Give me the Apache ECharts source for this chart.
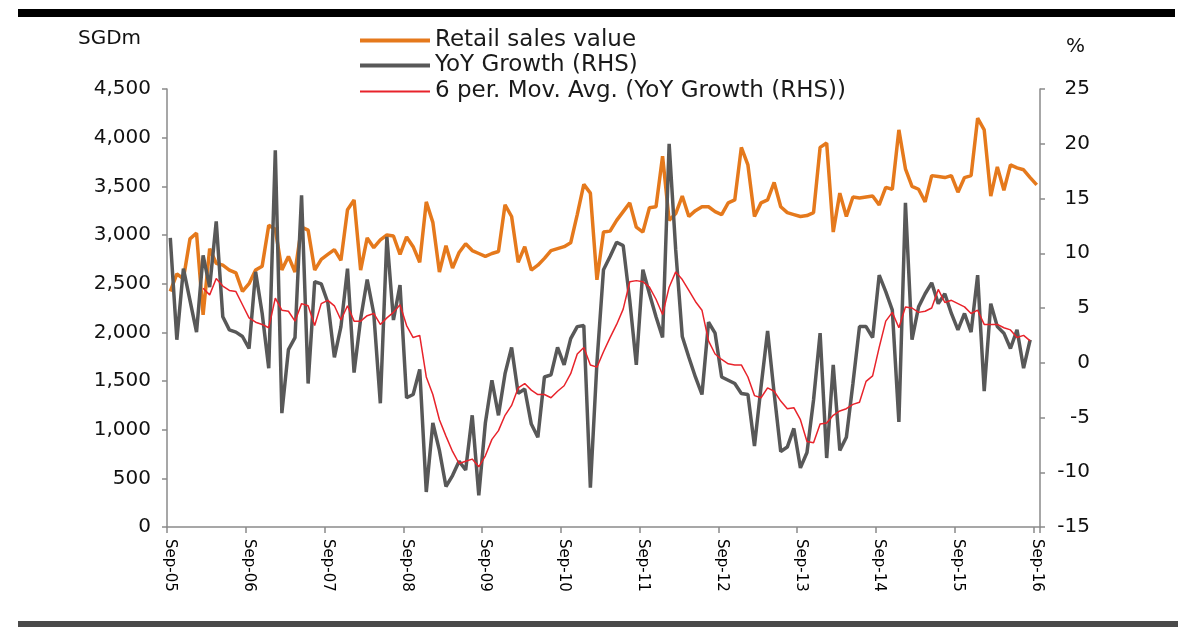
<!DOCTYPE html>
<html><head><meta charset="utf-8">
<script src="https://cdn.jsdelivr.net/npm/echarts@6/dist/echarts.min.js"></script>
<style>html,body{margin:0;padding:0;background:#fff}#c{width:1200px;height:630px}</style>
</head><body><div id="c"></div>
<script>
// Monthly, Sep-05 .. Sep-16
const monthNames = ['Jan','Feb','Mar','Apr','May','Jun','Jul','Aug','Sep','Oct','Nov','Dec'];
const startYear = 2005, startMonth = 8, monthCount = 133;
const categories = [];
for (let k = 0; k < monthCount; k++) {
  const m = (startMonth + k) % 12, y = startYear + Math.floor((startMonth + k) / 12);
  categories.push(monthNames[m] + '-' + String(y % 100).padStart(2, '0'));
}
const xTickLabels = ['Sep-05','Sep-06','Sep-07','Sep-08','Sep-09','Sep-10','Sep-11','Sep-12','Sep-13','Sep-14','Sep-15','Sep-16'];

// Retail sales value, SGDm (left axis)
const retailSales = [
 2420, 2600, 2550, 2960, 3020, 2180, 2860, 2710, 2690, 2640,
 2610, 2420, 2500, 2640, 2680, 3100, 3060, 2640, 2780, 2620,
 3080, 3050, 2640, 2750, 2800, 2850, 2740, 3260, 3360, 2640,
 2970, 2870, 2950, 3000, 2990, 2800, 2980, 2880, 2720, 3340,
 3130, 2620, 2890, 2660, 2820, 2910, 2840, 2810, 2780, 2810,
 2830, 3310, 3190, 2720, 2880, 2640, 2690, 2760, 2840, 2860,
 2880, 2920, 3210, 3520, 3430, 2540, 3030, 3040, 3150, 3240,
 3330, 3080, 3030, 3280, 3290, 3810, 3150, 3220, 3400, 3190,
 3250, 3290, 3290, 3240, 3210, 3330, 3360, 3900, 3720, 3190,
 3330, 3360, 3540, 3290, 3230, 3210, 3190, 3200, 3230, 3900,
 3945, 3030, 3430, 3190, 3390, 3380, 3390, 3400, 3310, 3490,
 3470, 4080, 3680, 3500, 3470, 3340, 3610, 3600, 3590, 3610,
 3440, 3590, 3610, 4200, 4080, 3400, 3700, 3460, 3720, 3690,
 3670, 3590, 3515
];

// YoY growth, % (right axis)
const yoyGrowth = [
 11.4, 2.1, 8.6, 5.7, 2.8, 9.8, 6.9, 12.9, 4.2, 3.0,
 2.8, 2.4, 1.3, 8.3, 4.5, -0.5, 19.4, -4.6, 1.2, 2.3,
 15.3, -1.9, 7.4, 7.2, 5.5, 0.5, 3.3, 8.6, -0.9, 4.0,
 7.6, 4.5, -3.7, 11.5, 3.9, 7.1, -3.2, -2.9, -0.6, -11.8,
 -5.5, -8.0, -11.3, -10.3, -9.0, -9.8, -4.8, -12.1, -5.5, -1.6,
 -4.8, -1.0, 1.4, -2.8, -2.4, -5.6, -6.8, -1.3, -1.1, 1.4,
 -0.2, 2.2, 3.3, 3.4, -11.4, 0.0, 8.5, 9.7, 11.0, 10.7,
 5.7, -0.2, 8.5, 6.3, 4.2, 2.3, 20.0, 10.3, 2.4, 0.5,
 -1.3, -2.9, 3.7, 2.7, -1.3, -1.6, -1.9, -2.8, -2.9, -7.6,
 -2.2, 2.9, -2.8, -8.1, -7.7, -6.0, -9.6, -8.2, -3.4, 2.7,
 -8.7, -0.2, -8.0, -6.8, -1.9, 3.3, 3.3, 2.3, 8.0, 6.5,
 4.8, -5.4, 14.6, 2.1, 5.1, 6.3, 7.3, 5.4, 6.3, 4.5,
 3.0, 4.5, 2.8, 8.0, -2.6, 5.4, 3.3, 2.7, 1.3, 3.0,
 -0.5, 2.1
];

// 6 per. moving average of YoY growth, % (right axis)
const movAvg6 = [
 null, null, null, null, null,
 6.8, 6.2, 7.7, 7.0, 6.6, 6.5, 5.3, 4.1, 3.7, 3.5,
 3.2, 5.9, 4.8, 4.7, 3.8, 5.4, 5.2, 3.4, 5.4, 5.7,
 5.2, 3.9, 5.2, 3.8, 3.8, 4.3, 4.5, 3.5, 4.1, 4.6,
 5.3, 3.4, 2.3, 2.5, -1.3, -2.9, -5.2, -6.7, -8.1, -9.2,
 -9.0, -8.8, -9.5, -8.5, -7.0, -6.2, -4.8, -3.9, -2.3, -1.9,
 -2.5, -2.9, -2.9, -3.2, -2.6, -2.1, -1.0, 0.8, 1.4, -0.2,
 -0.4, 1.0, 2.3, 3.5, 4.9, 7.4, 7.5, 7.4, 6.9, 5.8,
 4.4, 6.9, 8.3, 7.6, 6.6, 5.6, 4.8, 2.0, 0.8, 0.3,
 -0.1, -0.2, -0.2, -1.3, -3.0, -3.2, -2.3, -2.6, -3.5, -4.2,
 -4.1, -5.2, -7.2, -7.3, -5.6, -5.5, -4.8, -4.4, -4.2, -3.8,
 -3.6, -1.7, -1.2, 1.4, 3.8, 4.6, 3.2, 5.1, 5.0, 4.6,
 4.7, 5.0, 6.7, 5.5, 5.7, 5.4, 5.1, 4.5, 4.8, 3.5,
 3.5, 3.5, 3.2, 3.0, 2.3, 2.5, 2.0
];

const seriesNames = ['Retail sales value', 'YoY Growth (RHS)', '6 per. Mov. Avg. (YoY Growth (RHS))'];
const FONT = 'DejaVu Sans';
const AXIS_COLOR = '#8a8a8a';
const COLORS = ['#E5791C', '#585858', '#E8232B'];
const chart = echarts.init(document.getElementById('c'), null, {renderer: 'canvas'});
const showTick = (idx) => xTickLabels.indexOf(categories[idx]) >= 0;
const legendText = {fontFamily: FONT, fontSize: 23, lineHeight: 25, color: '#1a1a1a'};

chart.setOption({
  animation: false,
  backgroundColor: '#ffffff',
  textStyle: {fontFamily: FONT},
  grid: {left: 167, right: 160, top: 89, bottom: 103, containLabel: false, outerBoundsMode: 'none'},
  legend: [{
    orient: 'vertical', left: 360, top: 28, padding: 0, itemWidth: 70, itemHeight: 4, itemGap: 0,
    icon: 'rect', textStyle: legendText,
    data: [seriesNames[0], seriesNames[1]]
  }, {
    orient: 'vertical', left: 360, top: 79, padding: 0, itemWidth: 70, itemHeight: 2, itemGap: 0,
    icon: 'rect', textStyle: legendText,
    data: [seriesNames[2]]
  }],
  xAxis: {
    type: 'category', data: categories, boundaryGap: true,
    axisLine: {show: true, lineStyle: {color: AXIS_COLOR, width: 1.5}},
    axisTick: {show: true, interval: (i) => showTick(i), length: 6, lineStyle: {color: AXIS_COLOR, width: 1.5}},
    axisLabel: {
      interval: (i) => showTick(i), rotate: -90, fontSize: 15, color: '#000', fontFamily: FONT, margin: 12
    },
    splitLine: {show: false}
  },
  yAxis: [{
    type: 'value', min: 0, max: 4500, interval: 500, position: 'left',
    axisLine: {show: true, lineStyle: {color: AXIS_COLOR, width: 1.5}},
    axisTick: {show: true, length: 5, lineStyle: {color: AXIS_COLOR, width: 1.5}},
    axisLabel: {fontSize: 20, color: '#111', fontFamily: FONT, margin: 16,
      formatter: (v) => v.toLocaleString('en-US')},
    splitLine: {show: false}
  }, {
    type: 'value', min: -15, max: 25, interval: 5, position: 'right',
    axisLine: {show: true, lineStyle: {color: AXIS_COLOR, width: 1.5}},
    axisTick: {show: true, length: 5, lineStyle: {color: AXIS_COLOR, width: 1.5}},
    axisLabel: {fontSize: 20, color: '#111', fontFamily: FONT, margin: 50, align: 'right'},
    splitLine: {show: false}
  }],
  series: [{
    name: seriesNames[0], type: 'line', yAxisIndex: 0, data: retailSales,
    symbol: 'none', lineStyle: {color: COLORS[0], width: 3.5}, itemStyle: {color: COLORS[0]}, z: 2
  }, {
    name: seriesNames[1], type: 'line', yAxisIndex: 1, data: yoyGrowth,
    symbol: 'none', lineStyle: {color: COLORS[1], width: 3.5}, itemStyle: {color: COLORS[1]}, z: 3
  }, {
    name: seriesNames[2], type: 'line', yAxisIndex: 1, data: movAvg6,
    symbol: 'none', lineStyle: {color: COLORS[2], width: 1.5}, itemStyle: {color: COLORS[2]}, z: 4
  }],
  graphic: [
    {type: 'rect', shape: {x: 18, y: 9, width: 1157, height: 8}, style: {fill: '#000'}},
    {type: 'rect', shape: {x: 18, y: 621, width: 1160, height: 6}, style: {fill: '#4a4a4a'}},
    {type: 'text', left: 78, top: 29, style: {text: 'SGDm', fontFamily: FONT, fontSize: 20, fill: '#111'}},
    {type: 'text', left: 1066, top: 37, style: {text: '%', fontFamily: FONT, fontSize: 20, fill: '#111'}}
  ]
});
</script>
</body></html>
